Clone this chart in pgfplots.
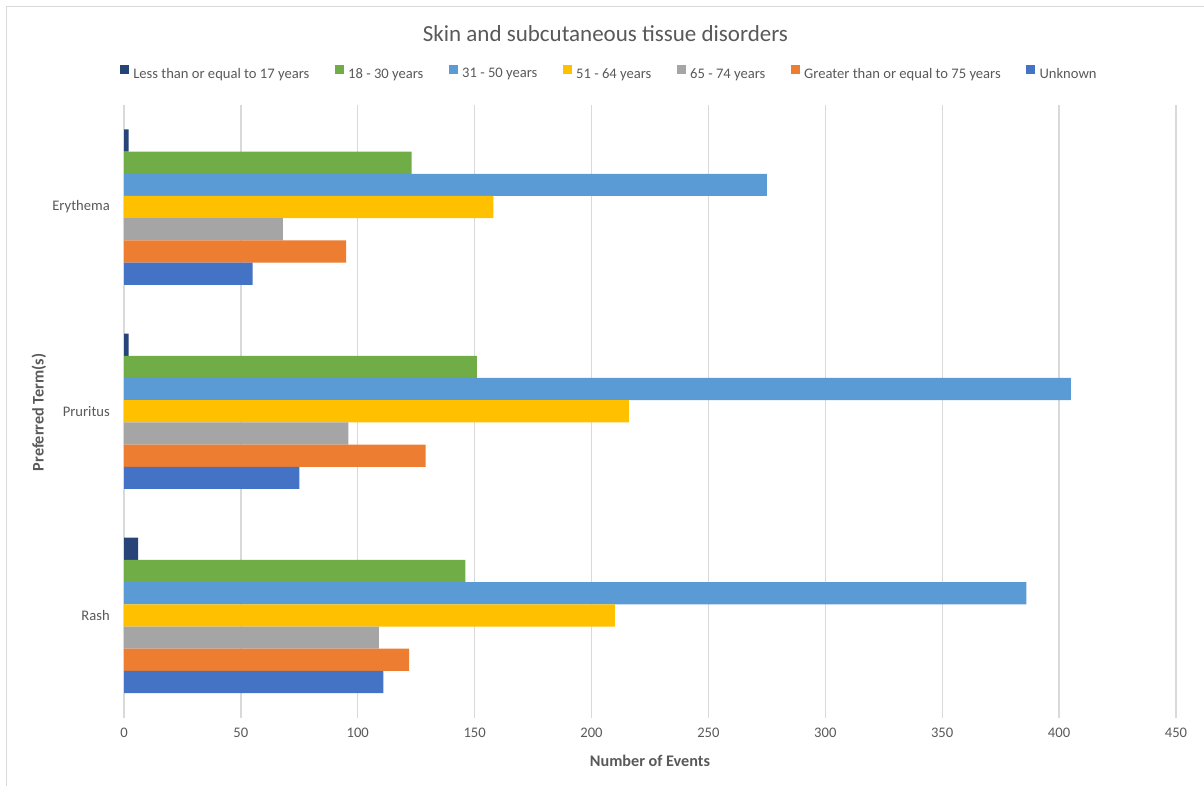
\documentclass[border=0pt]{standalone}
\usepackage{fontspec}
\setmainfont{Carlito}
\usepackage{pgfplots}
\usepackage{pgfplotstable}
\pgfplotsset{compat=1.18}
\definecolor{txt}{HTML}{595959}
\definecolor{grd}{HTML}{D9D9D9}
\definecolor{c1}{HTML}{264478}
\definecolor{c2}{HTML}{70AD47}
\definecolor{c3}{HTML}{5B9BD5}
\definecolor{c4}{HTML}{FFC000}
\definecolor{c5}{HTML}{A5A5A5}
\definecolor{c6}{HTML}{ED7D31}
\definecolor{c7}{HTML}{4472C4}
\pgfplotstableread{
cat e17 e30 e50 e64 e74 e75 unk
0   6   146 386 210 109 122 111
1   2   151 405 216 96  129 75
2   2   123 275 158 68  95  55
}\data
\begin{document}
\begin{tikzpicture}
\useasboundingbox (0,0) rectangle (1204pt,785pt);
\draw[grd, line width=1.2pt] (6.5pt,-20pt) -- (6.5pt,778.5pt) -- (1230pt,778.5pt);
\begin{axis}[
  at={(124pt,67.5pt)}, anchor=south west,
  scale only axis, width=1052pt, height=612.5pt,
  xmin=0, xmax=450, ymin=-0.5, ymax=2.5,
  xbar, bar width=22.2pt,
  legend image code/.code={\fill[#1] (0pt,0pt) rectangle (8.5pt,8.5pt);},
  xtick={0,50,...,450},
  ytick={0,1,2}, yticklabels={Rash,Pruritus,Erythema},
  major tick length=0pt,
  xmajorgrids, grid style={grd, line width=1.3pt},
  axis line style={draw=none},
  /pgf/number format/assume math mode=true,
  tick label style={font=\fontsize{14.6}{17}\selectfont, text=txt},
  xticklabel style={anchor=base, yshift=-20pt},
  yticklabel style={anchor=east, inner sep=0pt, xshift=-14pt},
  title={Skin and subcutaneous tissue disorders},
  title style={at={(axis description cs:0.4577,1.0939)}, anchor=base, yshift=0pt, font=\fontsize{23}{27}\selectfont, text=txt},
  xlabel={Number of Events},
  every axis x label/.style={at={(axis description cs:0.5,-0.0800)}, anchor=base, font=\bfseries\fontsize{16.2}{19}\selectfont, text=txt},
  ylabel={Preferred Term(s)},
  every axis y label/.style={at={(axis description cs:-0.0765,0.498)}, rotate=90, anchor=base, font=\bfseries\fontsize{16.2}{19}\selectfont, text=txt},
  legend columns=7,
  legend style={at={(0.4605,1.053)}, anchor=center, draw=none, fill=none,
    font=\fontsize{14.6}{17}\selectfont, text=txt, inner sep=0pt,
    nodes={inner sep=0pt, text=txt},
    /tikz/every odd column/.append style={column sep=4.6pt},
    /tikz/every even column/.append style={column sep=25.7pt}},
  legend cell align=left,
]
\addplot[fill=c1, draw=none, bar shift=66.6pt] table[x=e17, y=cat] {\data};
\addplot[fill=c2, draw=none, bar shift=44.4pt] table[x=e30, y=cat] {\data};
\addplot[fill=c3, draw=none, bar shift=22.2pt] table[x=e50, y=cat] {\data};
\addplot[fill=c4, draw=none, bar shift=0pt] table[x=e64, y=cat] {\data};
\addplot[fill=c5, draw=none, bar shift=-22.2pt] table[x=e74, y=cat] {\data};
\addplot[fill=c6, draw=none, bar shift=-44.4pt] table[x=e75, y=cat] {\data};
\addplot[fill=c7, draw=none, bar shift=-66.6pt] table[x=unk, y=cat] {\data};
\legend{Less than or equal to 17 years, 18 - 30 years, 31 - 50 years, 51 - 64 years, 65 - 74 years, Greater than or equal to 75 years, Unknown}
\end{axis}
\end{tikzpicture}
\end{document}
